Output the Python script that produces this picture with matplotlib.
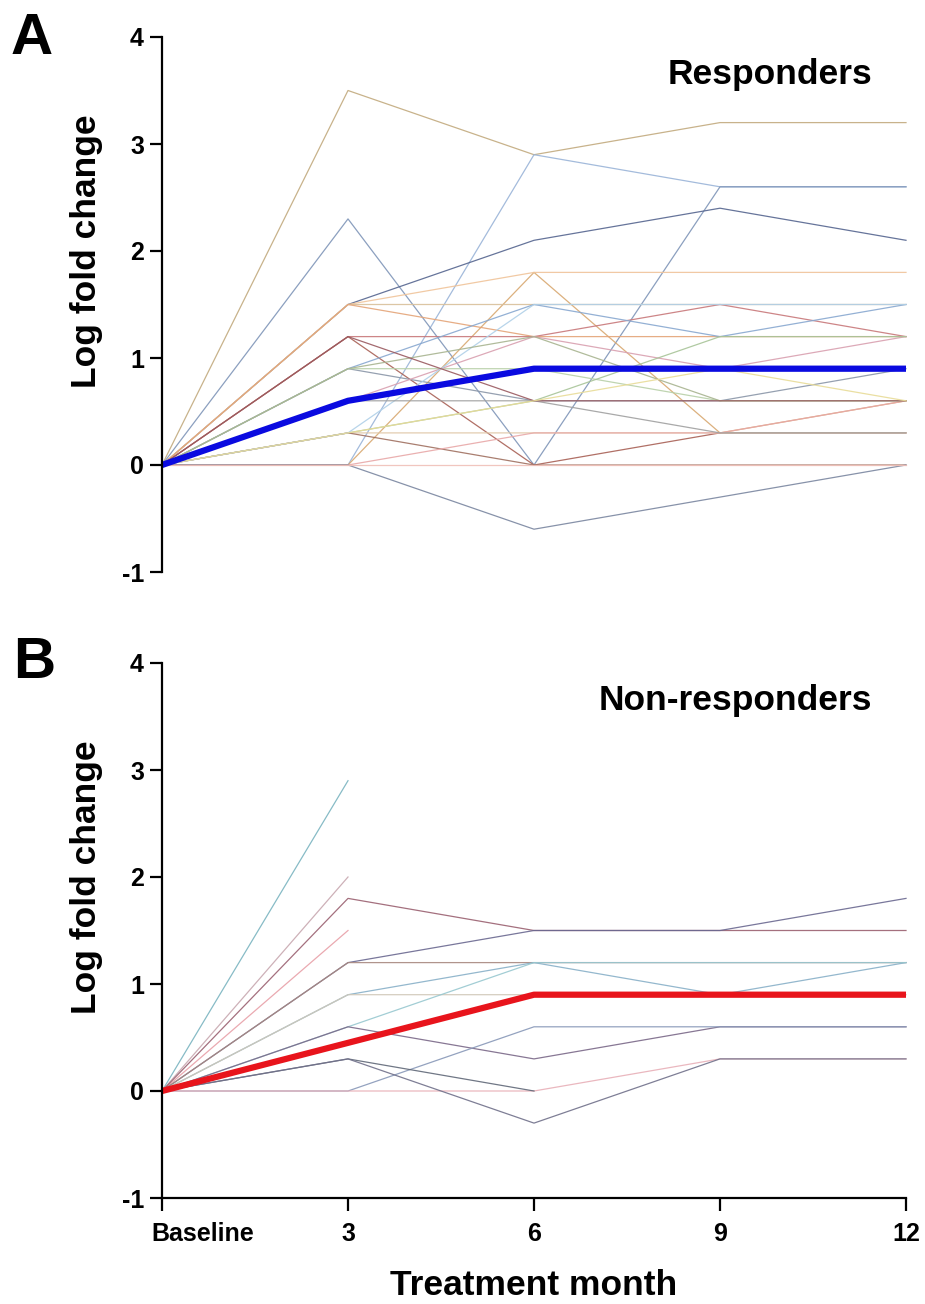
import numpy as np
import matplotlib
matplotlib.use("Agg")
import matplotlib.pyplot as plt
import matplotlib.transforms as mtransforms

plt.rcParams['font.family'] = ['Liberation Sans', 'DejaVu Sans']
plt.rcParams['font.weight'] = 'bold'

months = [0, 3, 6, 9, 12]
month_labels = ['Baseline', '3', '6', '9', '12']
y_ticks = [-1, 0, 1, 2, 3, 4]

nan = np.nan
# Panel A: responders, individual log fold changes at baseline, 3, 6, 9, 12 months
resp_01 = [0, 3.5, 2.9, 3.2, 3.2]
resp_02 = [0, 0.0, 2.9, 2.6, 2.6]
resp_03 = [0, 2.3, 0.0, 2.6, 2.6]
resp_04 = [0, 1.5, 2.1, 2.4, 2.1]
resp_05 = [0, 0.0, 1.8, 0.3, 0.6]
resp_06 = [0, 1.5, 1.8, 1.8, 1.8]
resp_07 = [0, 1.5, 1.5, 1.5, 1.5]
resp_08 = [0, 1.5, 1.2, 1.2, 1.2]
resp_09 = [0, 1.2, 1.2, 1.5, 1.2]
resp_10 = [0, 1.2, 0.0, 0.3, 0.3]
resp_11 = [0, 0.9, 1.5, 1.2, 1.5]
resp_12 = [0, 0.9, 0.6, 0.6, 0.9]
resp_13 = [0, 0.9, 0.9, 0.6, 0.6]
resp_14 = [0, 0.6, 1.2, 0.9, 1.2]
resp_15 = [0, 0.3, 0.6, 1.2, 1.2]
resp_16 = [0, 0.3, 0.3, 0.3, 0.3]
resp_17 = [0, 0.3, 0.0, 0.0, 0.0]
resp_18 = [0, 0.0, 0.3, 0.3, 0.6]
resp_19 = [0, 0.0, -0.6, -0.3, 0.0]
resp_20 = [0, 0.0, 0.0, 0.0, 0.0]
resp_21 = [0, 0.3, 1.5, 1.5, 1.5]
resp_22 = [0, 0.9, 1.2, 0.6, 0.6]
resp_23 = [0, 0.6, 0.6, 0.3, 0.3]
resp_24 = [0, 1.2, 0.6, 0.6, 0.6]
resp_25 = [0, 0.3, 0.6, 0.9, 0.6]
resp_mean = [0, 0.6, 0.9, 0.9, 0.9]

# Panel B: non-responders
non_01 = [0, 2.9, nan, nan, nan]
non_02 = [0, 2.0, nan, nan, nan]
non_03 = [0, 1.5, nan, nan, nan]
non_04 = [0, 1.8, 1.5, 1.5, 1.5]
non_05 = [0, 1.2, 1.5, 1.5, 1.8]
non_06 = [0, 1.2, 1.2, 1.2, 1.2]
non_07 = [0, 0.9, 1.2, 0.9, 1.2]
non_08 = [0, 0.9, 0.9, 0.9, 0.9]
non_09 = [0, 0.6, 1.2, 1.2, 1.2]
non_10 = [0, 0.6, 0.3, 0.6, 0.6]
non_11 = [0, 0.0, 0.6, 0.6, 0.6]
non_12 = [0, 0.0, 0.0, 0.3, 0.3]
non_13 = [0, 0.3, 0.0, nan, nan]
non_14 = [0, 0.3, -0.3, 0.3, 0.3]
non_mean = [0, 0.45, 0.9, 0.9, 0.9]

responders = [resp_01, resp_02, resp_03, resp_04, resp_05, resp_06, resp_07,
              resp_08, resp_09, resp_10, resp_11, resp_12, resp_13, resp_14,
              resp_15, resp_16, resp_17, resp_18, resp_19, resp_20, resp_21,
              resp_22, resp_23, resp_24, resp_25]
non_responders = [non_01, non_02, non_03, non_04, non_05, non_06, non_07,
                  non_08, non_09, non_10, non_11, non_12, non_13, non_14]

resp_colors = ['#c2aa7e', '#9ab4d8', '#7f95b8', '#55658f', '#d8a870',
               '#f0c49a', '#d9c09a', '#e4a478', '#c8787a', '#a86055',
               '#88a8d0', '#8a96a8', '#b8d0a8', '#d9a0b0', '#a8c498',
               '#e0c8a8', '#a07060', '#e8a8a8', '#7a86a0', '#f0c0b8',
               '#b0d0e8', '#a8b490', '#a0a0a0', '#9a5a60', '#e8dc98']
non_colors = ['#7ab4c0', '#c8a8b0', '#e8a0a8', '#9a6070', '#6a6890',
              '#a88880', '#88b0c8', '#d0c8b8', '#98c8d0', '#7a6888',
              '#8898b8', '#e8b0b8', '#606878', '#70708a']

fig = plt.figure(figsize=(9.25, 13.04), dpi=100)
left = 162 / 925
width = (906 - 162) / 925
ax_a = fig.add_axes([left, 1 - 572 / 1304, width, 535 / 1304])
ax_b = fig.add_axes([left, 1 - 1198 / 1304, width, 535 / 1304])

def style(ax, show_x):
    ax.set_xlim(0, 12)
    ax.set_ylim(-1, 4)
    ax.set_yticks(y_ticks)
    ax.set_yticklabels([str(t) for t in y_ticks], fontsize=18, fontweight='bold')
    for s in ['top', 'right']:
        ax.spines[s].set_visible(False)
    ax.spines['left'].set_linewidth(1.6)
    ax.tick_params(axis='y', direction='out', length=9, width=1.6, pad=4)
    if show_x:
        ax.spines['bottom'].set_linewidth(1.6)
        ax.set_xticks(months)
        ax.set_xticklabels(month_labels, fontsize=18, fontweight='bold')
        ax.tick_params(axis='x', direction='out', length=9, width=1.6, pad=8)
    else:
        ax.spines['bottom'].set_visible(False)
        ax.set_xticks([])
    ax.set_ylabel('Log fold change', fontsize=25.5, fontweight='bold')
    ax.yaxis.set_label_coords(-0.079, 0.60)

for vals, c in zip(responders, resp_colors):
    ax_a.plot(months, vals, color=c, lw=0.9, alpha=0.9, clip_on=False)
ax_a.plot(months, resp_mean, color='#0a0ae0', lw=4.5, solid_capstyle='butt', clip_on=False)

for vals, c in zip(non_responders, non_colors):
    ax_b.plot(months, vals, color=c, lw=0.9, alpha=0.9, clip_on=False)
ax_b.plot(months, non_mean, color='#e8141c', lw=4.5, solid_capstyle='butt', clip_on=False)

style(ax_a, False)
style(ax_b, True)
ax_b.set_xlabel('Treatment month', fontsize=25.5, fontweight='bold', labelpad=17)

# "Baseline" starts just left of its tick, as in the reference
first = ax_b.get_xticklabels()[0]
first.set_horizontalalignment('left')
first.set_transform(first.get_transform() +
                    mtransforms.ScaledTranslation(-11 / 100, 0, fig.dpi_scale_trans))

ax_a.text(0.955, 0.93, 'Responders', transform=ax_a.transAxes, ha='right', va='center',
          fontsize=25.5, fontweight='bold')
ax_b.text(0.955, 0.93, 'Non-responders', transform=ax_b.transAxes, ha='right', va='center',
          fontsize=25.5, fontweight='bold')

fig.text(11 / 925, 1 - 39 / 1304, 'A', fontsize=42, fontweight='bold', ha='left', va='center')
fig.text(13 / 925, 1 - 663 / 1304, 'B', fontsize=42, fontweight='bold', ha='left', va='center')

fig.savefig('out.png', dpi=100)
